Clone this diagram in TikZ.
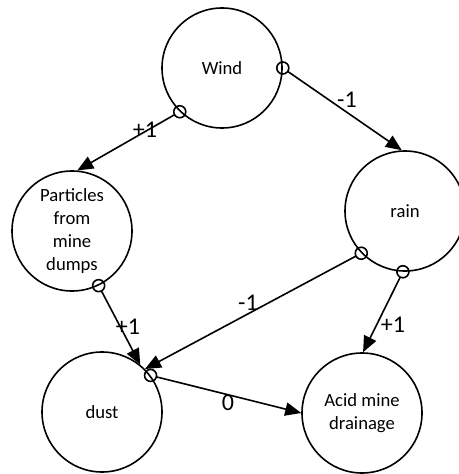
\documentclass[tikz,border=0pt]{standalone}
\usepackage{fontspec}
\setmainfont{Carlito}
\usetikzlibrary{arrows.meta}
\tikzset{
  var/.style={draw, circle, line width=1.2pt, minimum size=90pt, inner sep=0pt, align=center, font=\fontsize{14}{17.25}\selectfont},
  link/.style={line width=1.2pt, -{Triangle[length=12pt,width=10pt]}, shorten <=4.5pt},
  pol/.style={line width=1.2pt},
  lbl/.style={inner sep=0pt, font=\fontsize{18}{20}\selectfont}
}
\begin{document}
\begin{tikzpicture}[x=0.75pt,y=-0.75pt]
\useasboundingbox (0,0) rectangle (459,474);
\node[var] (wind) at (222,68) {Wind};
\node[var] (part) at (72,231) {Particles\\from\\mine\\dumps};
\node[var] (rain) at (405,211) {rain};
\node[var] (dust) at (102,412) {dust};
\node[var] (acid) at (362,413) {Acid mine\\drainage};

\draw[link] (wind.226) -- (part.85);
\draw[pol] (wind.226) circle[radius=4.5pt];
\draw[link] (wind.0) -- (rain.93);
\draw[pol] (wind.0) circle[radius=4.5pt];
\draw[link] (part.-64) -- (dust.51);
\draw[pol] (part.-64) circle[radius=4.5pt];
\draw[link] (rain.224) -- (dust.45);
\draw[pol] (rain.224) circle[radius=4.5pt];
\draw[link] (rain.268) -- (acid.89);
\draw[pol] (rain.268) circle[radius=4.5pt];
\draw[link] (dust.37) -- (acid.180);
\draw[pol] (dust.37) circle[radius=4.5pt];

\node[lbl] (l1) at (145,130) {+1};
\node[lbl] (l2) at (347,100) {-1};
\node[lbl] (l3) at (128,327) {+1};
\node[lbl] (l4) at (248,303) {-1};
\node[lbl] (l5) at (393,325) {+1};
\node[lbl] (l6) at (228,403) {0};
\end{tikzpicture}
\end{document}
